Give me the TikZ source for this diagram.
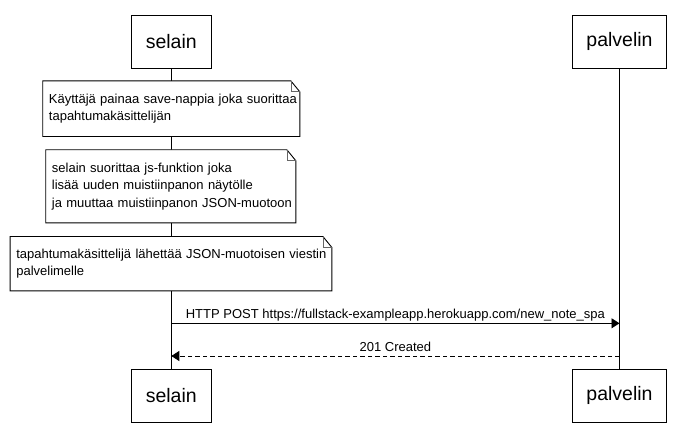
\documentclass[tikz,border=0pt]{standalone}
\usepackage{fontspec}
\setmainfont{Liberation Sans}
\usetikzlibrary{arrows.meta,backgrounds}
\tikzset{
  actor/.style={draw=black, line width=0.9pt, fill=white, minimum height=53.3pt,
    inner sep=0pt, font=\fontsize{19.5}{22}\selectfont},
  notebox/.style={inner xsep=6pt, inner ysep=0pt, align=left,
    font=\fontsize{13}{17.6}\selectfont},
  noteline/.style={draw=black, line width=0.9pt, fill=white},
  foldline/.style={draw=black!60, line width=0.7pt},
  lifeline/.style={line width=0.9pt},
  msg/.style={line width=0.9pt, -{Triangle[length=8pt,width=10pt]}},
  reply/.style={msg, dash pattern=on 4.5pt off 3pt},
  msglabel/.style={font=\fontsize{13}{15}\selectfont, inner sep=2pt, text depth=2.5pt}
}
\newcommand\drawnoteshape[1]{%
  \path[noteline] (#1.north west) -- ([xshift=-9pt]#1.north east)
    -- ([yshift=-11pt]#1.north east) -- (#1.south east) -- (#1.south west) -- cycle;
  \path[foldline] ([xshift=-9pt]#1.north east) -- ([xshift=-9pt,yshift=-11pt]#1.north east)
    -- ([yshift=-11pt]#1.north east);
}
\begin{document}
\begin{tikzpicture}[x=1pt,y=-1pt]
\useasboundingbox (0,0) rectangle (681,446);
% participants
\node[actor, minimum width=80pt] (s1) at (171.3,41.7) {selain};
\node[actor, minimum width=94.4pt] (p1) at (619.5,41.7) {palvelin};
\node[actor, minimum width=80pt] (s2) at (171.3,395.8) {selain};
\node[actor, minimum width=94.4pt] (p2) at (619.5,395.8) {palvelin};
% notes
\node[notebox, minimum width=256.7pt, minimum height=55.3pt, text width=244.7pt] (n1) at (171.3,108.7)
  {\mbox{Käyttäjä painaa save-nappia joka suorittaa}\\\mbox{tapahtumakäsittelijän}};
\node[notebox, minimum width=249.7pt, minimum height=72.7pt, text width=237.7pt] (n2) at (170.8,186.3)
  {\mbox{selain suorittaa js-funktion joka}\\\mbox{lisää uuden muistiinpanon näytölle}\\\mbox{ja muuttaa muistiinpanon JSON-muotoon}};
\node[notebox, minimum width=321.4pt, minimum height=54pt, text width=309.4pt] (n3) at (171,263.7)
  {\mbox{tapahtumakäsittelijä lähettää JSON-muotoisen viestin}\\\mbox{palvelimelle}};
\begin{scope}[on background layer]
  \draw[lifeline] (s1.south) -- (s2.north);
  \draw[lifeline] (p1.south) -- (p2.north);
  \drawnoteshape{n1}
  \drawnoteshape{n2}
  \drawnoteshape{n3}
\end{scope}
% messages
\coordinate (a1) at (s1.south |- 0,323.3);
\coordinate (b1) at (p1.south |- 0,323.3);
\coordinate (a2) at (s1.south |- 0,356);
\coordinate (b2) at (p1.south |- 0,356);
\draw[msg] (a1) -- node[msglabel, above] {HTTP POST https://fullstack-exampleapp.herokuapp.com/new\_note\_spa} (b1);
\draw[reply] (b2) -- node[msglabel, above] {201 Created} (a2);
\end{tikzpicture}
\end{document}
